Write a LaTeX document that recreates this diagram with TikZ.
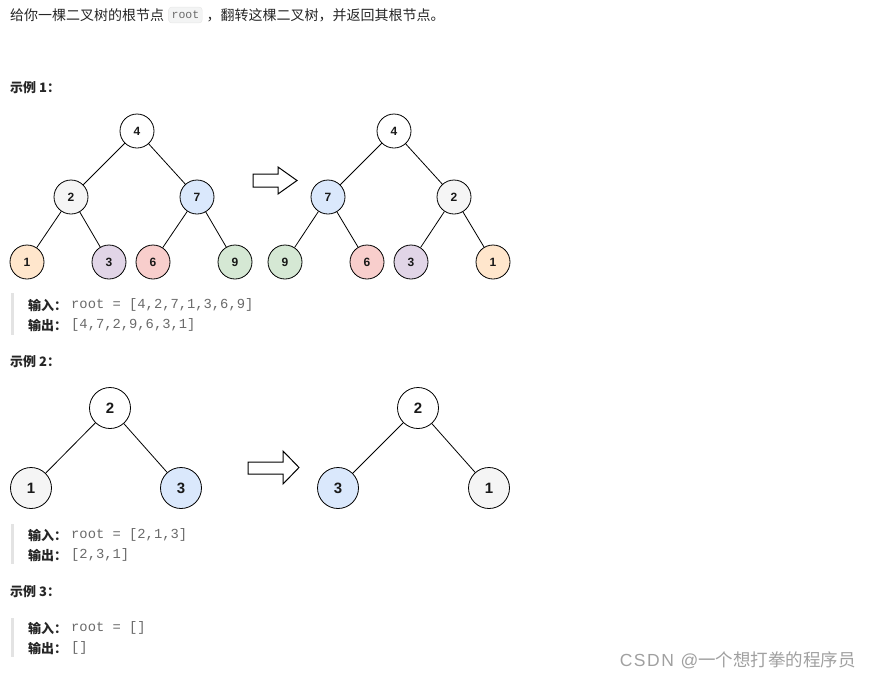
\documentclass[tikz,border=0pt]{standalone}
\usepackage{fontspec}
\setmainfont{Liberation Sans}
\newfontfamily\cjk{Noto Sans CJK SC}
\newfontfamily\monof{Liberation Mono}
\newfontfamily\wmlat[LetterSpace=9]{Liberation Sans}
\definecolor{txtc}{HTML}{262626}
\definecolor{monoc}{HTML}{6A6A6A}
\definecolor{barc}{HTML}{E3E3E3}
\definecolor{codebg}{HTML}{F3F4F4}
\definecolor{codeln}{HTML}{E6E6E6}
\definecolor{cor}{HTML}{FFE6CC}
\definecolor{cpu}{HTML}{E1D5E7}
\definecolor{cre}{HTML}{F8CECC}
\definecolor{cgr}{HTML}{D5E8D4}
\definecolor{cbl}{HTML}{DAE8FC}
\definecolor{cgy}{HTML}{F5F5F5}
\definecolor{wm}{HTML}{A0A0A0}
\begin{document}
\begin{tikzpicture}[x=1pt,y=-1pt,
  tn/.style={circle, draw=black, line width=0.8pt, minimum size=34pt, inner sep=0pt, fill=white, text=black!90,
    font=\bfseries\fontsize{12}{12}\selectfont},
  tnb/.style={tn, minimum size=41pt, font=\bfseries\fontsize{15}{15}\selectfont},
  edge/.style={line width=0.8pt},
  bigarrow/.style={draw=black, line width=1pt, fill=white, line join=miter},
  txt/.style={anchor=west, inner sep=0pt, text=txtc, font=\cjk\fontsize{14}{16}\selectfont},
  lbl/.style={anchor=west, inner sep=0pt, text=txtc, font=\cjk\bfseries\fontsize{13}{15}\selectfont},
  mono/.style={anchor=west, inner sep=0pt, text=monoc, font=\monof\fontsize{13.8}{15}\selectfont},
  codebox/.style={anchor=west, inner xsep=3pt, inner ysep=4pt, fill=codebg, draw=codeln, rounded corners=3pt,
    text=monoc, font=\monof\fontsize{11.5}{13}\selectfont},
  qbar/.style={draw=barc, line width=3pt}
]
\useasboundingbox (0,0) rectangle (871,678);

% heading
\node[txt] (h1) at (10,15) {给你一棵二叉树的根节点};
\node[codebox] (h2) at ([xshift=4pt]h1.east) {root};
\node[txt] (h3) at ([xshift=4pt]h2.east) {，翻转这棵二叉树，并返回其根节点。};

% example 1
\node[lbl] (e1) at (10,88) {示例 1：};

\node[tn] (a4) at (137,131) {4};
\node[tn, fill=cgy] (a2) at (71,197) {2};
\node[tn, fill=cbl] (a7) at (197,197) {7};
\node[tn, fill=cor] (a1) at (27,262) {1};
\node[tn, fill=cpu] (a3) at (109,262) {3};
\node[tn, fill=cre] (a6) at (153,262) {6};
\node[tn, fill=cgr] (a9) at (235,262) {9};
\draw[edge] (a4) -- (a2); \draw[edge] (a4) -- (a7);
\draw[edge] (a2) -- (a1); \draw[edge] (a2) -- (a3);
\draw[edge] (a7) -- (a6); \draw[edge] (a7) -- (a9);

\draw[bigarrow] (253,174) -- (278,174) -- (278,167) -- (297,180.5) -- (278,194) -- (278,187) -- (253,187) -- cycle;

\node[tn] (b4) at (394,131) {4};
\node[tn, fill=cbl] (b7) at (328,197) {7};
\node[tn, fill=cgy] (b2) at (454,197) {2};
\node[tn, fill=cgr] (b9) at (285,262) {9};
\node[tn, fill=cre] (b6) at (367,262) {6};
\node[tn, fill=cpu] (b3) at (411,262) {3};
\node[tn, fill=cor] (b1) at (493,262) {1};
\draw[edge] (b4) -- (b7); \draw[edge] (b4) -- (b2);
\draw[edge] (b7) -- (b9); \draw[edge] (b7) -- (b6);
\draw[edge] (b2) -- (b3); \draw[edge] (b2) -- (b1);

\coordinate (q1t) at (12,293); \coordinate (q1b) at (12,335);
\draw[qbar] (q1t) -- (q1b);
\node[lbl] (i1) at (28,305) {输入：};
\node[mono] (i1v) at (71,305) {root = [4,2,7,1,3,6,9]};
\node[lbl] (o1) at (28,325) {输出：};
\node[mono] (o1v) at (71,325) {[4,7,2,9,6,3,1]};

% example 2
\node[lbl] (e2) at (10,362) {示例 2：};

\node[tnb] (c2) at (110,408) {2};
\node[tnb, fill=cgy] (c1) at (31,488) {1};
\node[tnb, fill=cbl] (c3) at (181,488) {3};
\draw[edge] (c2) -- (c1); \draw[edge] (c2) -- (c3);

\draw[bigarrow] (248,462) -- (283,462) -- (283,451) -- (299,467.5) -- (283,484) -- (283,474) -- (248,474) -- cycle;

\node[tnb] (d2) at (418,408) {2};
\node[tnb, fill=cbl] (d3) at (338,488) {3};
\node[tnb, fill=cgy] (d1) at (489,488) {1};
\draw[edge] (d2) -- (d3); \draw[edge] (d2) -- (d1);

\coordinate (q2t) at (12,524); \coordinate (q2b) at (12,564);
\draw[qbar] (q2t) -- (q2b);
\node[lbl] (i2) at (28,535) {输入：};
\node[mono] (i2v) at (71,535) {root = [2,1,3]};
\node[lbl] (o2) at (28,555) {输出：};
\node[mono] (o2v) at (71,555) {[2,3,1]};

% example 3
\node[lbl] (e3) at (10,592) {示例 3：};
\coordinate (q3t) at (12,618); \coordinate (q3b) at (12,657);
\draw[qbar] (q3t) -- (q3b);
\node[lbl] (i3) at (28,628) {输入：};
\node[mono] (i3v) at (71,628) {root = []};
\node[lbl] (o3) at (28,648) {输出：};
\node[mono] (o3v) at (71,648) {[]};

% watermark
\node[anchor=east, inner sep=0pt, text=wm, font=\fontsize{17.5}{20}\selectfont] (wmk) at (856,660)
  {{\wmlat CSDN @}{\cjk 一个想打拳的程序员}};
\end{tikzpicture}
\end{document}
